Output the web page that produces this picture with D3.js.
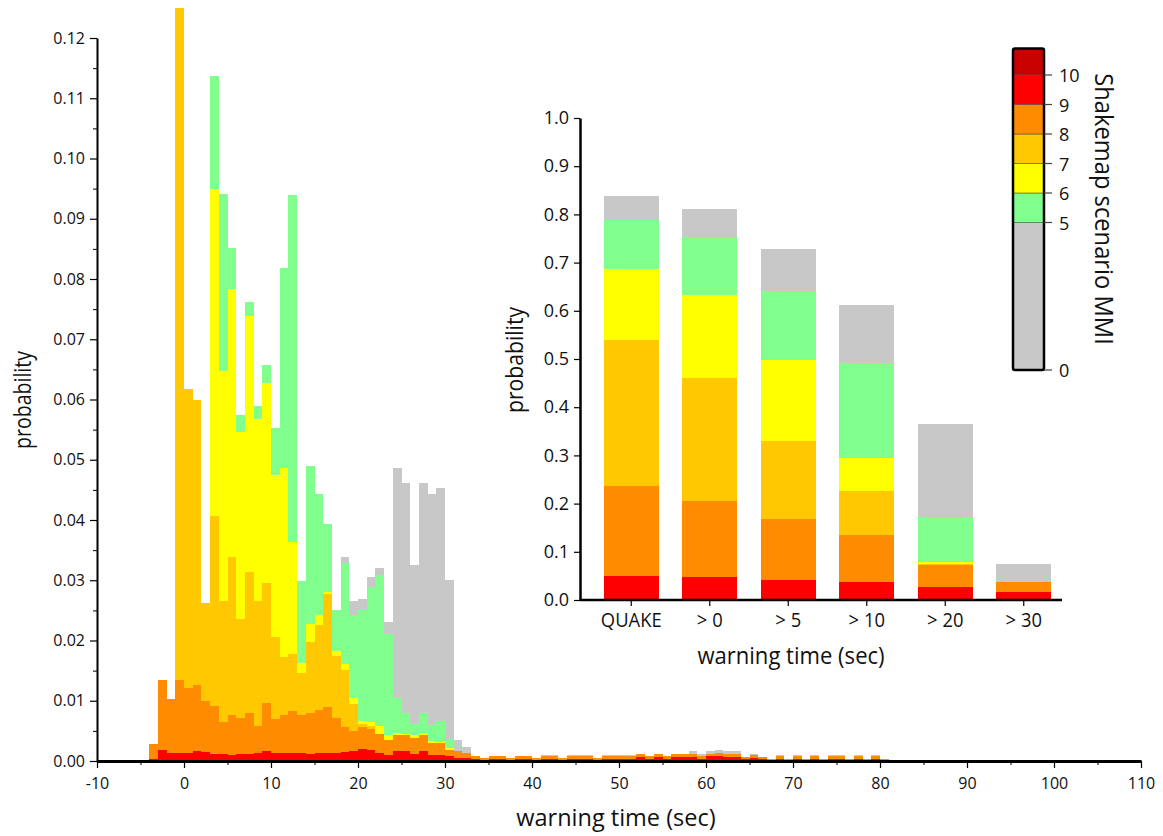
<!DOCTYPE html>
<html lang="en">
<head>
<meta charset="utf-8">
<title>Warning time histogram</title>
<script src="https://cdn.jsdelivr.net/npm/d3@7"></script>
<style>
  body { margin: 0; background: #fff; }
  svg { display: block; }
  .axis .domain { stroke: #000; }
  .axis line { stroke: #000; }
</style>
</head>
<body>
<script>
// ---- main histogram: 1 s bins, start of each bin
let binStarts = [-4,-3,-2,-1,0,1,2,3,4,5,6,7,8,9,10,11,12,13,14,15,16,17,18,19,20,21,22,23,24,25,26,27,28,29,30,
  31,32,33,34,35,36,37,38,39,40,41,42,43,44,45,46,47,48,49,50,51,52,53,54,55,56,57,58,59,60,61,62,63,64,65,66,67,68,69,70,
  71,72,73,74,75,76,77,78,79,80];

// cumulative tops of the stack (probability of MMI >= level)
let topMMI9 = [0.0003,0.0019,0.0013,0.0013,0.0013,0.0016,0.0015,0.0012,0.0011,0.0010,0.0012,0.0012,0.0013,0.0016,
  0.0013,0.0013,0.0013,0.0013,0.0012,0.0013,0.0013,0.0013,0.0015,0.0016,
  0.0020,0.0018,0.0014,0.0010,0.0016,0.0016,0.0012,0.0016,0.0010,0.0010,
  0.0008,0.0005,0.0005,0.0003,0.0002,0.0004,0.0004,0.0002,0.0004,0.0004,
  0.0002,0.0004,0.0004,0.0002,0.0004,0.0004,0.0004,0.0002,0.0004,0.0004,
  0.0004,0.0004,0.0007,0.0004,0.0006,0.0004,0.0007,0.0007,0.0006,0.0004,
  0.0008,0.0008,0.0007,0.0007,0.0003,0.0005,0.0003,0.0002,0.0004,0.0002,
  0.0004,0.0002,0.0004,0.0002,0.0004,0.0004,0.0002,0.0004,0.0002,0.0004,0.0001];
let topMMI8 = [0.0028,0.0134,0.0103,0.0134,0.0121,0.0126,0.0100,0.0092,0.0064,0.0077,0.0072,0.0079,0.0058,0.0096,
  0.0070,0.0077,0.0083,0.0077,0.0080,0.0085,0.0089,0.0072,0.0056,0.0049,
  0.0056,0.0053,0.0045,0.0035,0.0043,0.0043,0.0039,0.0043,0.0030,0.0030,
  0.0018,0.0016,0.0013,0.0009,0.0005,0.0009,0.0009,0.0005,0.0009,0.0009,
  0.0005,0.0008,0.0008,0.0005,0.0008,0.0008,0.0008,0.0005,0.0008,0.0008,
  0.0008,0.0008,0.0012,0.0008,0.0012,0.0008,0.0011,0.0011,0.0011,0.0008,
  0.0012,0.0014,0.0012,0.0012,0.0006,0.0010,0.0007,0.0004,0.0008,0.0004,
  0.0008,0.0004,0.0008,0.0004,0.0008,0.0008,0.0004,0.0008,0.0004,0.0008,0.0003];
// MMI 7, 6, 5 only occur for bins -4 .. 30
let topMMI7 = [0.0028,0.0134,0.0103,0.125,0.0617,0.0599,0.0263,0.0406,0.0265,0.0339,0.0235,0.0314,0.0265,0.0296,
  0.0205,0.0172,0.0177,0.0146,0.0198,0.0225,0.0277,0.0175,0.0151,0.0095,
  0.0062,0.0058,0.0045,0.0035,0.0043,0.0043,0.0039,0.0043,0.0030,0.0030,0.0018];
let topMMI6 = [0.0028,0.0134,0.0103,0.125,0.0617,0.0599,0.0263,0.0949,0.0648,0.0784,0.0546,0.0739,0.0567,0.0627,
  0.0475,0.0486,0.0363,0.0162,0.0227,0.0243,0.0281,0.0182,0.0161,0.0105,
  0.0067,0.0064,0.0058,0.0043,0.0046,0.0045,0.0043,0.0047,0.0033,0.0032,0.0021];
let topMMI5 = [0.0028,0.0134,0.0103,0.125,0.0617,0.0599,0.0263,0.1137,0.0941,0.0852,0.0575,0.0761,0.0589,0.0658,
  0.0553,0.0819,0.0940,0.0299,0.0489,0.0443,0.0394,0.0250,0.0328,0.0243,
  0.0250,0.0288,0.0309,0.0210,0.0104,0.0079,0.0062,0.0079,0.0059,0.0066,0.0037];
let topAll = [0.0028,0.0134,0.0103,0.125,0.0617,0.0599,0.0263,0.1137,0.0941,0.0852,0.0575,0.0761,0.0589,0.0658,
  0.0553,0.0819,0.0940,0.0299,0.0489,0.0443,0.0394,0.0250,0.0338,0.0266,
  0.0269,0.0305,0.0320,0.0230,0.0486,0.0461,0.0325,0.0461,0.0443,0.0453,
  0.0300,0.0035,0.0023,0.0009,0.0005,0.0009,0.0009,0.0005,0.0009,0.0009,
  0.0005,0.0010,0.0010,0.0005,0.0010,0.0010,0.0010,0.0005,0.0010,0.0010,
  0.0010,0.0010,0.0012,0.0008,0.0012,0.0008,0.0011,0.0011,0.0016,0.0011,
  0.0016,0.0018,0.0016,0.0016,0.0006,0.0012,0.0007,0.0004,0.0010,0.0004,
  0.0010,0.0004,0.0010,0.0004,0.0010,0.0010,0.0004,0.0010,0.0004,0.0010,0.0003];

let xTicks = [-10,0,10,20,30,40,50,60,70,80,90,100,110];
let yTicks = [0,0.01,0.02,0.03,0.04,0.05,0.06,0.07,0.08,0.09,0.10,0.11,0.12];

// ---- inset: probability per warning-time class
let insetCats = ["QUAKE", "> 0", "> 5", "> 10", "> 20", "> 30"];
let insetMMI9 = [0.050, 0.047, 0.041, 0.037, 0.028, 0.017];
let insetMMI8 = [0.237, 0.205, 0.168, 0.135, 0.073, 0.037];
let insetMMI7 = [0.539, 0.460, 0.329, 0.226, 0.075, 0.037];
let insetMMI6 = [0.687, 0.633, 0.497, 0.294, 0.079, 0.038];
let insetMMI5 = [0.789, 0.753, 0.642, 0.492, 0.173, 0.039];
let insetAll  = [0.839, 0.812, 0.728, 0.612, 0.366, 0.075];
let insetTicks = [0,0.1,0.2,0.3,0.4,0.5,0.6,0.7,0.8,0.9,1.0];

// ---- colour bar legend
let legendBreaks = [0, 5, 6, 7, 8, 9, 10, 10.9];
let legendTicks = [0, 5, 6, 7, 8, 9, 10];
let legendColors = ["#c8c8c8", "#80ff8e", "#ffff00", "#ffc800", "#ff8c00", "#ff0000", "#c80000"];

// stack colours bottom -> top
let layerColors = ["#ff0000", "#ff8c00", "#ffc800", "#ffff00", "#80ff8e", "#c8c8c8"];

let tickFont = "'Open Sans', 'DejaVu Sans', sans-serif";

let svg = d3.select("body").append("svg").attr("width", 1163).attr("height", 836);

// ================= main histogram
let x = d3.scaleLinear().domain([-10, 110]).range([97, 1141]);
let y = d3.scaleLinear().domain([0, 0.12]).range([761, 38]);

let histTops = [topMMI9, topMMI8, topMMI7, topMMI6, topMMI5, topAll];
function topAt(j, i) {           // falls back to the layer below when a level is absent
  for (let m = j; m >= 0; m--) {
    if (histTops[m][i] !== undefined) return histTops[m][i];
  }
  return 0;
}

let hist = svg.append("g").attr("shape-rendering", "crispEdges");
histTops.forEach((tops, j) => {
  let segs = binStarts.map((b, i) => ({b: b, y0: j === 0 ? 0 : topAt(j - 1, i), y1: topAt(j, i)}))
                      .filter(d => d.y1 > d.y0);
  hist.append("g").attr("fill", layerColors[j])
      .selectAll("rect").data(segs).join("rect")
      .attr("x", d => x(d.b))
      .attr("width", d => x(d.b + 1) - x(d.b))
      .attr("y", d => y(d.y1))
      .attr("height", d => y(d.y0) - y(d.y1));
});

// minor ticks first, then major axes on top
let xMinor = xTicks.slice(0, -1).map(t => t + 5);
let yMinor = yTicks.slice(0, -1).map(t => t + 0.005);

svg.append("g").attr("class", "axis").attr("transform", `translate(0,${y(0)})`)
   .call(d3.axisBottom(x).tickValues(xMinor).tickSize(4).tickFormat(""))
   .call(g => g.select(".domain").remove());
svg.append("g").attr("class", "axis").attr("transform", `translate(${x(-10)},0)`)
   .call(d3.axisLeft(y).tickValues(yMinor).tickSize(4).tickFormat(""))
   .call(g => g.select(".domain").remove());

let xAx = svg.append("g").attr("class", "axis").attr("transform", `translate(0,${y(0)})`)
   .call(d3.axisBottom(x).tickValues(xTicks).tickSize(7).tickSizeOuter(0).tickPadding(10).tickFormat(d => String(d)));
xAx.select(".domain").attr("stroke-width", 3);
xAx.selectAll("line").attr("stroke-width", 1.2);
xAx.selectAll("text").attr("font-family", tickFont).attr("font-size", 16).attr("fill", "#111");

let yAx = svg.append("g").attr("class", "axis").attr("transform", `translate(${x(-10)},0)`)
   .call(d3.axisLeft(y).tickValues(yTicks).tickSize(7).tickSizeOuter(0).tickPadding(5).tickFormat(d3.format(".2f")));
yAx.select(".domain").attr("stroke-width", 2);
yAx.selectAll("line").attr("stroke-width", 1.2);
yAx.selectAll("text").attr("font-family", tickFont).attr("font-size", 16).attr("fill", "#111");

svg.append("text").attr("x", 616).attr("y", 826).attr("text-anchor", "middle")
   .attr("font-family", tickFont).attr("font-size", 23.5).attr("fill", "#111")
   .text("warning time (sec)");
svg.append("text").attr("transform", "translate(22,400) rotate(-90) scale(0.85,1)")
   .attr("text-anchor", "middle").attr("dominant-baseline", "central")
   .attr("font-family", tickFont).attr("font-size", 23).attr("fill", "#111")
   .text("probability");

// ================= inset bar chart
let xb = d3.scaleBand().domain(insetCats).range([592, 1063]).paddingInner(0.3).paddingOuter(0.15);
let yb = d3.scaleLinear().domain([0, 1]).range([600, 118]);

let insetTops = [insetMMI9, insetMMI8, insetMMI7, insetMMI6, insetMMI5, insetAll];
let inset = svg.append("g").attr("shape-rendering", "crispEdges");
insetTops.forEach((tops, j) => {
  let segs = insetCats.map((c, i) => ({c: c, y0: j === 0 ? 0 : insetTops[j - 1][i], y1: tops[i]}))
                      .filter(d => d.y1 > d.y0);
  inset.append("g").attr("fill", layerColors[j])
       .selectAll("rect").data(segs).join("rect")
       .attr("x", d => xb(d.c))
       .attr("width", xb.bandwidth())
       .attr("y", d => yb(d.y1))
       .attr("height", d => yb(d.y0) - yb(d.y1));
});

let ibx = svg.append("g").attr("class", "axis").attr("transform", `translate(0,${yb(0)})`)
   .call(d3.axisBottom(xb).tickSize(6).tickSizeOuter(0).tickPadding(7));
ibx.select(".domain").attr("d", "M580,0H1062").attr("stroke-width", 2.5);
ibx.selectAll("line").attr("stroke-width", 1.2);
ibx.selectAll("text").attr("font-family", tickFont).attr("font-size", 20).attr("fill", "#111")
   .attr("transform", "scale(0.92,1)");

let iby = svg.append("g").attr("class", "axis").attr("transform", "translate(580,0)")
   .call(d3.axisLeft(yb).tickValues(insetTicks).tickSize(6).tickSizeOuter(0).tickPadding(5).tickFormat(d3.format(".1f")));
iby.select(".domain").attr("stroke-width", 2.5);
iby.selectAll("line").attr("stroke-width", 1.2);
iby.selectAll("text").attr("font-family", tickFont).attr("font-size", 18).attr("fill", "#111");

svg.append("text").attr("transform", "translate(791,664) scale(0.92,1)").attr("text-anchor", "middle")
   .attr("font-family", tickFont).attr("font-size", 24).attr("fill", "#111")
   .text("warning time (sec)");
svg.append("text").attr("transform", "translate(514,360) rotate(-90) scale(0.92,1)")
   .attr("text-anchor", "middle").attr("dominant-baseline", "central")
   .attr("font-family", tickFont).attr("font-size", 23).attr("fill", "#111")
   .text("probability");

// ================= colour bar
let yl = d3.scaleLinear().domain([0, 10]).range([370, 75]);
let legend = svg.append("g");
legend.selectAll("rect.seg").data(legendColors).join("rect").attr("class", "seg")
   .attr("x", 1013).attr("width", 31)
   .attr("y", (c, i) => yl(legendBreaks[i + 1]))
   .attr("height", (c, i) => yl(legendBreaks[i]) - yl(legendBreaks[i + 1]))
   .attr("fill", c => c)
   .attr("stroke", "#555").attr("stroke-width", 0.6);
legend.append("rect")
   .attr("x", 1013).attr("width", 31)
   .attr("y", yl(legendBreaks[legendBreaks.length - 1]))
   .attr("height", yl(0) - yl(legendBreaks[legendBreaks.length - 1]))
   .attr("rx", 2).attr("fill", "none").attr("stroke", "#000").attr("stroke-width", 2.5);
legend.selectAll("line.tk").data(legendTicks).join("line").attr("class", "tk")
   .attr("x1", 1044).attr("x2", 1052)
   .attr("y1", d => yl(d)).attr("y2", d => yl(d))
   .attr("stroke", "#444").attr("stroke-width", 1.2);
legend.selectAll("text.lb").data(legendTicks).join("text").attr("class", "lb")
   .attr("x", 1059).attr("y", d => yl(d))
   .attr("dominant-baseline", "central")
   .attr("font-family", tickFont).attr("font-size", 18).attr("fill", "#111")
   .text(d => d);
svg.append("text").attr("transform", "translate(1105,209) rotate(90) scale(0.95,1)")
   .attr("text-anchor", "middle").attr("dominant-baseline", "central")
   .attr("font-family", tickFont).attr("font-size", 25).attr("fill", "#111")
   .text("Shakemap scenario MMI");
</script>
</body>
</html>
